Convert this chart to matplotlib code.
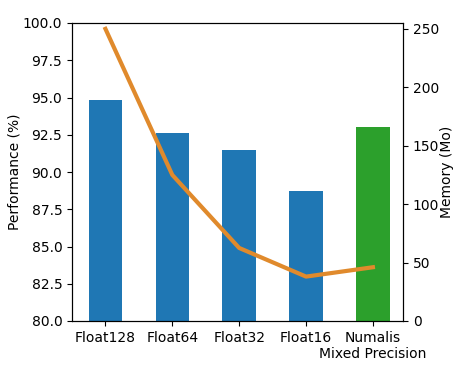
import matplotlib as mpl
mpl.use('Agg')

import numpy as np
import matplotlib.pyplot as plt

categories = ["Float128", "Float64", "Float32", "Float16", "Numalis\nMixed Precision"]
performance = [94.8, 92.6, 91.5, 88.75, 93.0]
memory = [250, 125, 62.5, 38, 46]
bar_colors = ['#1f77b4', '#1f77b4', '#1f77b4', '#1f77b4', '#2ca02c']

fig = plt.figure(figsize=(4.65, 3.67), dpi=100)
ax = fig.add_axes([72 / 465, 1 - 321 / 367, 331 / 465, 298 / 367])

x = np.arange(len(categories))
ax.bar(x, performance, width=0.5, color=bar_colors)
ax.set_ylim(80, 100)
ax.set_yticks(np.arange(80, 100.1, 2.5))
ax.set_ylabel("Performance (%)", labelpad=1)
ax.set_xticks(x)
ax.set_xticklabels(categories)
ax.set_xlabel("Precision", labelpad=18)

ax2 = ax.twinx()
ax2.plot(x, memory, color='#e08a2c', linewidth=3)
ax2.set_ylim(0, 255)
ax2.set_yticks([0, 50, 100, 150, 200, 250])
ax2.set_ylabel("Memory (Mo)", labelpad=1)

ax.set_xlim(-0.5, 4.45)

fig.savefig("out.png", dpi=100)
